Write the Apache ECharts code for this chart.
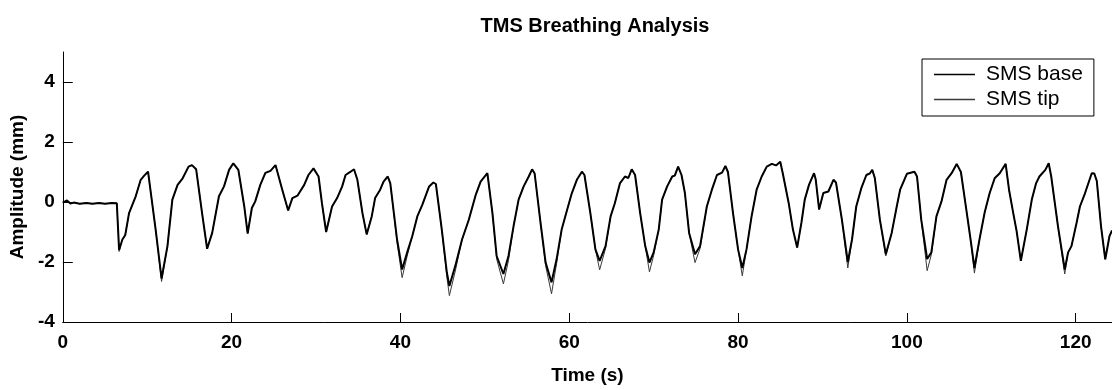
<!DOCTYPE html>
<html><head><meta charset="utf-8">
<script src="https://cdn.jsdelivr.net/npm/echarts@6/dist/echarts.min.js"></script>
<style>html,body{margin:0;padding:0;background:#fff}#c{width:1112px;height:390px}</style>
</head><body><div id="c"></div><script>
const time = [0.0,0.5,0.9,1.3,2.0,2.8,3.5,4.3,5.0,5.8,6.4,6.67,7.06,7.4,7.85,8.64,9.23,9.62,10.1,11.0,11.7,12.4,12.98,13.6,14.2,14.9,15.3,15.8,16.5,17.1,17.7,18.5,19.1,19.7,20.2,20.8,21.5,21.9,22.4,22.8,23.4,24.0,24.6,25.2,26.0,26.7,27.2,27.8,28.6,29.1,29.7,30.3,30.7,31.2,31.9,32.5,33.1,33.5,34.1,34.5,34.9,35.5,36.0,36.6,37.0,37.6,38.0,38.5,38.8,39.6,40.2,40.8,41.4,42.0,42.6,43.4,43.9,44.2,44.9,45.5,45.8,46.5,47.3,48.1,48.9,49.5,50.3,50.9,51.4,52.2,52.8,53.4,54.0,54.6,55.2,55.6,55.9,56.6,57.2,57.9,58.5,59.1,59.7,60.3,60.9,61.5,61.8,62.5,63.1,63.6,64.3,64.9,65.4,66.0,66.6,67.0,67.4,67.8,68.4,69.0,69.5,70.0,70.6,71.0,71.6,72.2,72.5,72.9,73.3,73.7,74.2,74.9,75.5,76.3,76.9,77.5,78.1,78.5,78.8,79.4,80.0,80.5,81.0,81.6,82.2,82.8,83.4,84.0,84.5,85.0,85.3,86.0,86.5,87.0,87.5,87.9,88.4,89.0,89.2,89.6,90.1,90.7,91.3,91.6,92.3,93.0,93.5,94.0,94.6,95.2,95.6,95.9,96.2,96.8,97.5,98.2,98.8,99.2,100.0,100.9,101.2,101.7,102.4,102.9,103.5,104.1,104.7,105.3,105.9,106.4,107.1,107.6,108.0,108.6,109.2,109.8,110.4,111.0,111.7,112.1,112.6,113.0,113.5,114.2,114.8,115.3,115.7,116.4,116.8,117.1,117.9,118.7,119.1,119.5,120.1,120.5,121.1,121.9,122.2,122.5,123.0,123.5,124.0,124.3];
const smsBase = [-0.02,0.05,-0.05,-0.02,-0.06,-0.03,-0.06,-0.03,-0.06,-0.03,-0.04,-1.6,-1.25,-1.1,-0.37,0.19,0.74,0.87,1.01,-0.92,-2.55,-1.47,0.08,0.57,0.79,1.18,1.23,1.09,-0.37,-1.56,-1.03,0.19,0.52,1.07,1.29,1.07,-0.15,-1.05,-0.2,0.02,0.57,0.97,1.04,1.23,0.41,-0.28,0.13,0.21,0.57,0.9,1.12,0.85,-0.04,-1.0,-0.15,0.13,0.52,0.9,1.01,1.09,0.74,-0.37,-1.08,-0.48,0.13,0.41,0.68,0.85,0.62,-1.25,-2.25,-1.68,-1.14,-0.48,-0.09,0.52,0.65,0.6,-0.92,-2.35,-2.8,-2.13,-1.25,-0.59,0.22,0.68,0.96,-0.37,-1.8,-2.4,-1.8,-0.81,0.08,0.52,0.85,1.09,0.95,-0.7,-2.02,-2.68,-1.91,-0.92,-0.31,0.29,0.74,1.01,0.9,-0.37,-1.58,-1.96,-1.47,-0.48,-0.04,0.62,0.85,0.8,1.09,0.9,-0.37,-1.47,-2.02,-1.68,-0.92,0.08,0.52,0.85,0.88,1.18,0.9,0.3,-1.03,-1.74,-1.47,-0.15,0.41,0.9,0.98,1.2,1.0,-0.37,-1.58,-2.2,-1.58,-0.48,0.41,0.85,1.18,1.27,1.22,1.34,0.95,-0.04,-0.92,-1.52,-0.7,0.08,0.57,0.96,0.75,-0.25,0.3,0.35,0.74,0.65,-0.59,-2.0,-1.25,-0.15,0.46,0.9,0.95,1.07,0.8,-0.59,-1.74,-1.03,-0.15,0.41,0.94,1.01,0.85,-0.59,-1.9,-1.68,-0.48,0.02,0.74,0.96,1.27,1.0,-0.37,-1.36,-2.2,-1.25,-0.37,0.29,0.79,0.96,1.27,0.41,-0.37,-0.97,-1.96,-0.92,0.08,0.62,0.85,1.07,1.29,0.85,-0.81,-2.25,-1.68,-1.47,-0.7,-0.15,0.29,0.96,0.95,0.7,-0.81,-1.91,-1.14,-0.95];
const smsTip = [-0.02,0.05,-0.05,-0.02,-0.06,-0.03,-0.06,-0.03,-0.06,-0.03,-0.04,-1.65,-1.25,-1.1,-0.37,0.19,0.74,0.87,1.01,-0.92,-2.65,-1.47,0.08,0.57,0.79,1.18,1.23,1.09,-0.37,-1.56,-1.03,0.19,0.52,1.07,1.29,1.07,-0.15,-1.05,-0.2,0.02,0.57,0.97,1.04,1.23,0.41,-0.28,0.13,0.21,0.57,0.9,1.12,0.85,-0.04,-1.0,-0.15,0.13,0.52,0.9,1.01,1.09,0.74,-0.37,-1.08,-0.48,0.13,0.41,0.68,0.85,0.62,-1.35,-2.52,-1.8,-1.14,-0.48,-0.09,0.52,0.65,0.6,-0.92,-2.5,-3.12,-2.3,-1.25,-0.59,0.22,0.68,0.96,-0.37,-1.9,-2.73,-1.95,-0.81,0.08,0.52,0.85,1.09,0.95,-0.7,-2.12,-3.06,-2.05,-0.92,-0.31,0.29,0.74,1.01,0.9,-0.37,-1.58,-2.26,-1.55,-0.48,-0.04,0.62,0.85,0.8,1.09,0.9,-0.37,-1.47,-2.33,-1.78,-0.92,0.08,0.52,0.85,0.88,1.18,0.9,0.3,-1.03,-2.02,-1.55,-0.15,0.41,0.9,0.98,1.2,1.0,-0.37,-1.58,-2.46,-1.58,-0.48,0.41,0.85,1.18,1.27,1.22,1.34,0.95,-0.04,-0.92,-1.52,-0.7,0.08,0.57,0.96,0.75,-0.25,0.3,0.35,0.74,0.65,-0.59,-2.2,-1.25,-0.15,0.46,0.9,0.95,1.07,0.8,-0.59,-1.8,-1.03,-0.15,0.41,0.94,1.01,0.85,-0.59,-2.29,-1.75,-0.48,0.02,0.74,0.96,1.27,1.0,-0.37,-1.36,-2.37,-1.25,-0.37,0.29,0.79,0.96,1.27,0.41,-0.37,-0.97,-1.96,-0.92,0.08,0.62,0.85,1.07,1.29,0.85,-0.81,-2.4,-1.68,-1.47,-0.7,-0.15,0.29,0.96,0.95,0.7,-0.81,-1.91,-1.14,-0.95];
const xTicks = [0,20,40,60,80,100,120];
const yTicks = [-4,-2,0,2,4];
const seriesNames = ['SMS base','SMS tip'];

const SANS = "'Liberation Sans',Arial,sans-serif";
const chart = echarts.init(document.getElementById('c'), null, {renderer:'canvas'});
chart.setOption({
  animation:false,
  backgroundColor:'#fff',
  title:{text:'TMS Breathing Analysis', left:590, top:11, textAlign:'center',
    textStyle:{fontFamily:SANS, fontWeight:'bold', fontSize:20, color:'#000'}},
  legend:{orient:'vertical', left:922, top:59,
    data:[{name:seriesNames[0], itemStyle:{color:'#000'}}, {name:seriesNames[1], itemStyle:{color:'#3a3a3a'}}],
    icon:'rect', itemWidth:41, itemHeight:1.5, itemGap:4, padding:[5,11,6,12],
    borderColor:'#000', borderWidth:1, backgroundColor:'#fff', borderRadius:0,
    textStyle:{fontFamily:SANS, fontSize:21, color:'#000', padding:[0,0,0,6]}},
  grid:{left:62, right:0, top:52, bottom:63, containLabel:false},
  xAxis:{type:'value', min:0, max:124.3,
    name:'Time (s)', nameLocation:'middle', nameGap:44,
    nameTextStyle:{fontFamily:SANS, fontWeight:'bold', fontSize:19, color:'#000'},
    axisLine:{onZero:false, lineStyle:{color:'#000', width:1}},
    axisTick:{inside:true, length:9, customValues:xTicks, lineStyle:{color:'#000', width:1}},
    axisLabel:{customValues:xTicks, margin:11, fontFamily:SANS, fontWeight:'bold', fontSize:19, color:'#000'},
    splitLine:{show:false}},
  yAxis:{type:'value', min:-4, max:5,
    name:'Amplitude (mm)', nameLocation:'middle', nameGap:34, nameRotate:90,
    nameTextStyle:{fontFamily:SANS, fontWeight:'bold', fontSize:19, color:'#000'},
    axisLine:{onZero:false, lineStyle:{color:'#000', width:1}},
    axisTick:{inside:true, length:10, customValues:yTicks, lineStyle:{color:'#000', width:1}},
    axisLabel:{customValues:yTicks, margin:8, fontFamily:SANS, fontWeight:'bold', fontSize:19, color:'#000'},
    splitLine:{show:false}},
  series:[
    {name:seriesNames[0], type:'line', symbol:'none', z:3,
     data:time.map((t,i)=>[t, smsBase[i]]),
     lineStyle:{color:'#000', width:2}, itemStyle:{color:'#000'}},
    {name:seriesNames[1], type:'line', symbol:'none', z:2,
     data:time.map((t,i)=>[t, smsTip[i]]),
     lineStyle:{color:'#3a3a3a', width:1}, itemStyle:{color:'#3a3a3a'}}
  ]
});
</script></body></html>
